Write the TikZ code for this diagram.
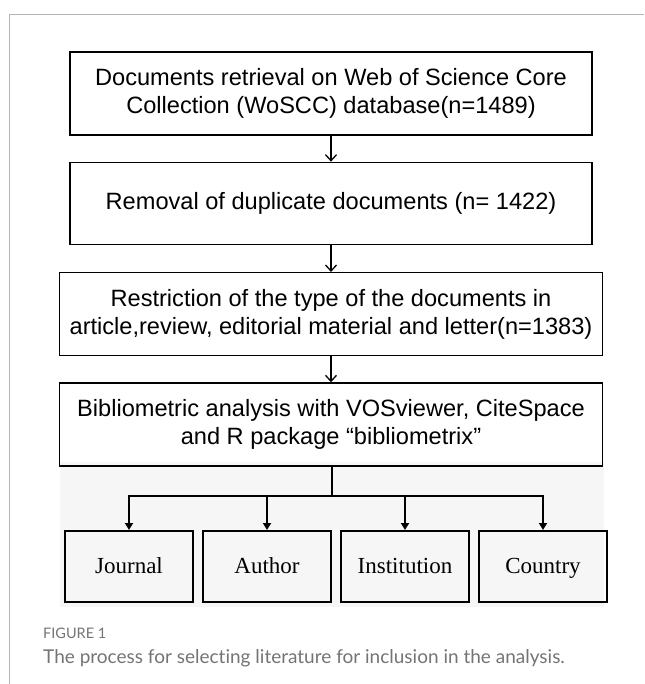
\documentclass[tikz,border=0pt]{standalone}
\usepackage{fontspec}
\usepackage{tikz}
\usetikzlibrary{arrows.meta,positioning}
\newfontfamily\arialfont{Liberation Sans}
\newfontfamily\timesfont{Liberation Serif}
\newfontfamily\capfont[Ligatures=NoCommon]{Lato}
\definecolor{framegray}{HTML}{B4B4B4}
\definecolor{capgray}{HTML}{747474}
\definecolor{pastegray}{HTML}{F6F6F6}

\begin{document}
\begin{tikzpicture}[x=1pt, y=-1pt, node distance={26pt},
    stage/.style = {draw, line width=1.3pt, inner sep=0pt, minimum width=522pt, minimum height=83pt, align=center, font=\arialfont\fontsize{23.6}{28}\selectfont},
    widestage/.style = {stage, minimum width=543pt},
    leaf/.style = {draw, line width=2pt, inner sep=0pt, minimum width=128pt, minimum height=71pt, text height=18pt, text depth=5pt, font=\timesfont\fontsize{23}{27}\selectfont},
    flow/.style = {line width=1.3pt, -{Straight Barb[length=6pt,width=11pt,line width=1.3pt]}},
    branch/.style = {line width=2pt}]
                    \useasboundingbox (0,0) rectangle (644,684);
                    \draw[framegray, line width=1pt] (644,15) -- (9.5,15) -- (9.5,684);
                    \fill[pastegray] (60,462) rectangle (604,607);
                    \node[stage] (search) at (331,93.5) {Documents retrieval on Web of Science Core\\Collection (WoSCC) database(n=1489)};
                    \node[stage, minimum height=82pt] (dedup) [below=of search] {Removal of duplicate documents (n= 1422)};
                    \node[widestage] (restrict) [below=27pt of dedup] {Restriction of the type of the documents in\\article,review, editorial material and letter(n=1383)};
                    \node[widestage] (analysis) [below=of restrict] {Bibliometric analysis with VOSviewer, CiteSpace\\and R package “bibliometrix”};
                    \node[leaf] (journal) at (129,566.5) {Journal};
                    \node[leaf] (author) [right=8pt of journal] {Author};
                    \node[leaf] (institution) [right=8pt of author] {Institution};
                    \node[leaf] (country) [right=8pt of institution] {Country};
                    \coordinate (fork) at (332,496);
                    \draw[flow] (search) -- (dedup);
                    \draw[flow] (dedup) -- (restrict);
                    \draw[flow] (restrict) -- (analysis);
                    \draw[branch] (analysis.south -| fork) -- (fork);
                    \foreach \kid in {journal, author, institution, country}
                        \draw[branch, -{Triangle[length=7pt,width=8pt]}] (fork) -| (\kid);
                    \node[anchor=base west, inner sep=0pt, text=capgray, font=\capfont\fontsize{14.5}{16}\selectfont] (figlabel) at (43,638) {FIGURE 1};
                    \node[anchor=base west, inner sep=0pt, text=capgray, font=\capfont\fontsize{19}{24}\selectfont] (figcaption) at (43,663) {The process for selecting literature for inclusion in the analysis.};
                \end{tikzpicture}
\end{document}
